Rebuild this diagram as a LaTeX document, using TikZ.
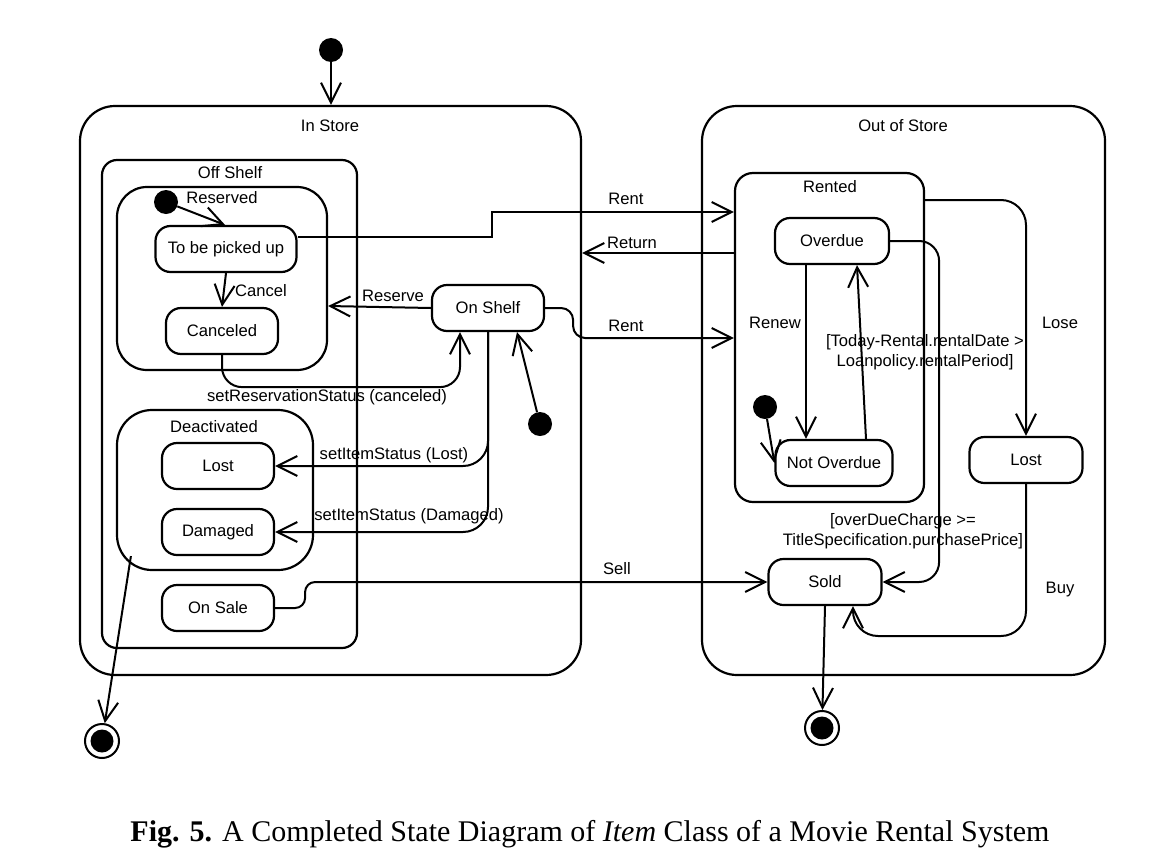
\documentclass[tikz,border=0pt]{standalone}
\usepackage{fontspec}
\setmainfont{Liberation Sans}
\newfontfamily\capfont{Liberation Serif}
\usetikzlibrary{arrows.meta,calc}
\begin{document}
\begin{tikzpicture}[x=1pt,y=-1pt,
  every node/.style={font=\fontsize{16.6}{19.5}\selectfont, inner sep=0pt},
  st/.style={draw, line width=2.2pt, rounded corners=15pt, minimum width=#1, minimum height=46pt},
  st/.default=112pt,
  cont/.style={draw, line width=2.2pt},
  dot/.style={circle, fill=black, minimum size=24pt},
  fin/.style={circle, draw, line width=2pt, minimum size=34pt,
    path picture={\fill[black] (path picture bounding box.center) circle (11.5pt);}},
  arr/.style={line width=2pt, -{Straight Barb[length=20pt,width=20pt]}},
  lbl/.style={align=center}
]
\useasboundingbox (0,0) rectangle (1169,854);

% containers
\node[cont, rounded corners=35pt, minimum width=501pt, minimum height=569pt] (instore) at (330.5,390.5) {};
\node[cont, rounded corners=15pt, minimum width=255pt, minimum height=488pt] (offshelf) at (229.5,404) {};
\node[cont, rounded corners=30pt, minimum width=210pt, minimum height=183pt] (reserved) at (222,278.5) {};
\node[cont, rounded corners=35pt, minimum width=196pt, minimum height=160pt] (deact) at (215,490) {};
\node[cont, rounded corners=35pt, minimum width=403pt, minimum height=569pt] (outstore) at (903.5,390.5) {};
\node[cont, rounded corners=18pt, minimum width=189pt, minimum height=329pt] (rented) at (829.5,337.5) {};

% container titles
\node (tInStore) at (330,126) {In Store};
\node (tOffShelf) at (230,173) {Off Shelf};
\node (tReserved) at (222,198) {Reserved};
\node (tDeact) at (214,427) {Deactivated};
\node (tOutStore) at (903,126) {Out of Store};
\node (tRented) at (830,187) {Rented};

% states
\node[st=141pt] (tbpu) at (226,249) {To be picked up};
\node[st] (canceled) at (222,331) {Canceled};
\node[st] (onshelf) at (488,308) {On Shelf};
\node[st] (lostL) at (218,466) {Lost};
\node[st] (damaged) at (218,532) {Damaged};
\node[st] (onsale) at (218,608) {On Sale};
\node[st=114pt] (overdue) at (832,241) {Overdue};
\node[st=117pt] (notoverdue) at (834,463) {Not Overdue};
\node[st=113pt] (lostR) at (1026,460) {Lost};
\node[st=113pt] (sold) at (825,582) {Sold};

% pseudo states
\node[dot] (init0) at (331,50) {};
\node[dot] (init1) at (166,202) {};
\node[dot] (init2) at (540,424) {};
\node[dot] (init3) at (765,407) {};
\node[fin] (final1) at (102,741) {};
\node[fin] (final2) at (822,728) {};

% connectors
\draw[arr] (init0) -- (init0 |- instore.north);
\draw[arr] (init1) -- ([xshift=-1pt]tbpu.north);
\draw[arr] (tbpu.south) -- (canceled.north);
\draw[arr] (onshelf.west) -- (reserved.east |- 0,306);
\draw[arr, rounded corners=20pt] (canceled.south) -- ++(0,32) -| ([xshift=-28pt]onshelf.south);
\draw[arr, rounded corners=25pt] (onshelf.south) |- (lostL.east);
\draw[arr, rounded corners=25pt] (onshelf.south) |- (damaged.east);
\draw[arr] (init2) -- ([xshift=29pt]onshelf.south);
\draw[arr] ([yshift=12pt]tbpu.east) -| (492,212) -- (rented.west |- 0,212);
\draw[arr, rounded corners=12pt] (onshelf.east) -- ++(28,0) |- (rented.west |- 0,338);
\draw[arr] (rented.west |- 0,253) -- (instore.east |- 0,253);
\draw[arr, rounded corners=10pt] (onsale.east) -- ++(30,0) |- (sold.west);
\draw[arr] ([shift={(15pt,15pt)}]deact.south west) -- (final1);
\draw[arr] (init3) -- (notoverdue.west);
\draw[arr] ([xshift=-26pt]overdue.south) -- ([xshift=-28pt]notoverdue.north);
\draw[arr] ([xshift=32pt]notoverdue.north) -- ([xshift=25pt]overdue.south);
\draw[arr, rounded corners=25pt] (rented.east |- 0,200) -| (lostR.north);
\draw[arr, rounded corners=20pt] (overdue.east) -- ++(49,0) |- (sold.east);
\draw[arr, rounded corners=25pt] (lostR.south) -- (lostR.south |- 0,636) -| ([xshift=28pt]sold.south);
\draw[arr] (sold.south) -- (final2);

% labels
\node (lCancel) at (261,291) {Cancel};
\node (lReserve) at (393,296) {Reserve};
\node (lSetRes) at (327,397) {setReservationStatus (canceled)};
\node (lSetLost) at (394,455) {setItemStatus (Lost)};
\node (lSetDam) at (409,516) {setItemStatus (Damaged)};
\node (lRent1) at (626,199) {Rent};
\node (lReturn) at (632,243) {Return};
\node (lRent2) at (626,326) {Rent};
\node (lSell) at (617,569) {Sell};
\node (lRenew) at (775,323) {Renew};
\node[lbl] (lGuard1) at (925,352) {[Today-Rental.rentalDate >\\Loanpolicy.rentalPeriod]};
\node (lLose) at (1060,323) {Lose};
\node[lbl] (lGuard2) at (903,531) {[overDueCharge >=\\TitleSpecification.purchasePrice]};
\node (lBuy) at (1060,590) {Buy};

% caption
\node[font=\capfont\fontsize{30}{36}\selectfont] (caption) at (590,834) {\textbf{Fig. 5.} A Completed State Diagram of \textit{Item} Class of a Movie Rental System};
\end{tikzpicture}
\end{document}
